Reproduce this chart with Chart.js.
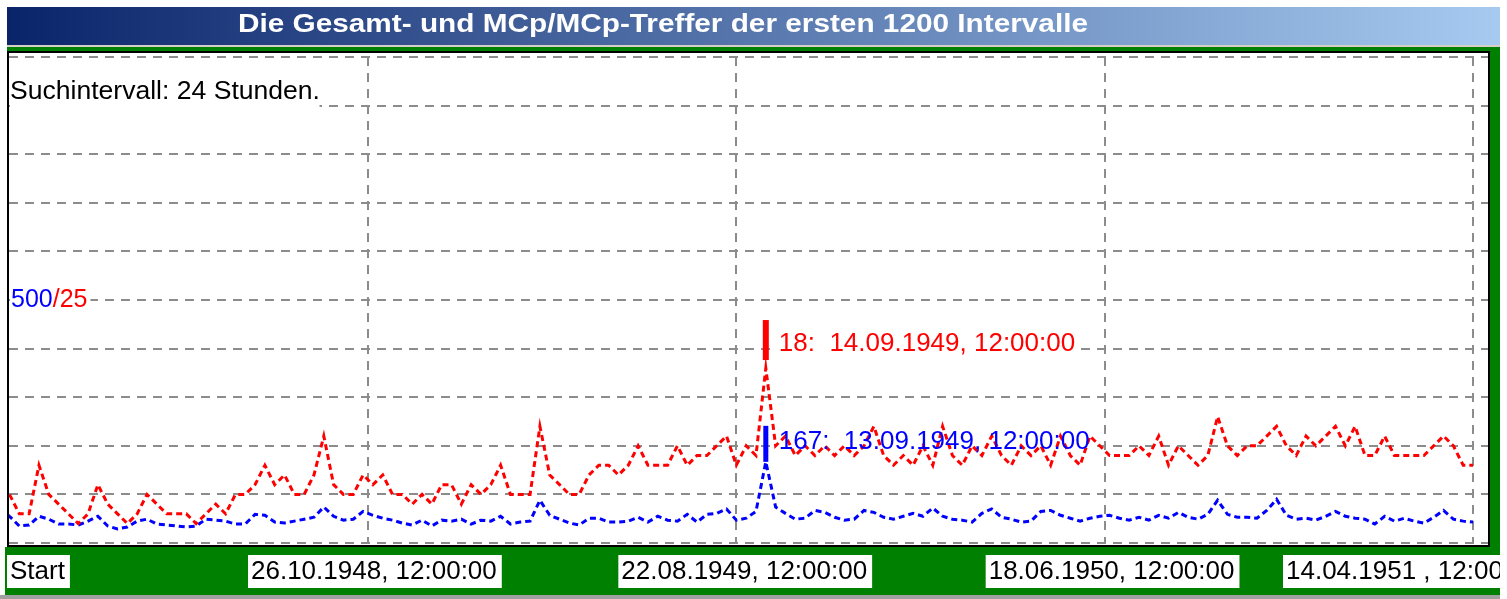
<!DOCTYPE html>
<html lang="de">
<head>
<meta charset="UTF-8">
<title>Gesamt- und MCp/MCp-Treffer</title>
<script src="https://cdn.jsdelivr.net/npm/chart.js@4.4.0/dist/chart.umd.min.js"></script>
<style>
  html, body { margin: 0; padding: 0; background: #fff; overflow: hidden; }
  #wrap { position: relative; width: 1507px; height: 599px; }
</style>
</head>
<body>
<div id="wrap"><canvas id="grafico"></canvas></div>
<script>
// ---- Daten ----
const titel = 'Die Gesamt- und MCp/MCp-Treffer der ersten 1200 Intervalle';
const suchText = 'Suchintervall: 24 Stunden.';

// Intervallnummer je Punkt (alle 8 Intervalle ein Wert)
const intervalle = Array.from({ length: 151 }, (_, i) => i * 8);

// blau: Gesamt-Treffer
const gesamtTreffer = [
  70,55,35,37,55,49,39,39,37,45,55,35,29,33,45,49,39,37,35,33,35,49,47,45,39,39,59,57,43,41,45,49,53,74,55,47,49,65,57,
  51,47,41,37,47,35,47,45,49,39,47,45,55,39,43,45,88,57,49,41,37,51,51,43,43,45,53,43,55,47,45,59,43,59,61,70,47,
  51,65,167,74,61,49,51,67,63,53,47,49,67,63,53,49,55,61,55,72,55,49,47,43,61,70,53,49,43,45,65,67,57,51,45,51,55,
  57,51,47,53,47,57,51,63,53,49,59,88,59,53,53,51,67,90,57,49,51,47,55,65,55,51,49,39,55,45,51,45,41,53,67,49,45,43
];

// rot: MCp/MCp-Treffer
const mcpTreffer = [
  5,5,3,3,8,5,4,3,2,3,6,4,3,2,3,5,4,3,3,3,2,3,4,3,5,5,6,8,6,7,5,5,7,11,6,5,5,7,6,
  7,5,5,4,5,4,6,6,4,6,5,6,8,5,5,5,12,7,6,5,5,7,8,8,7,8,10,8,8,8,10,8,9,9,10,11,8,
  10,9,18,10,11,9,10,9,10,9,10,9,10,12,9,8,9,8,10,8,12,9,8,10,9,11,9,8,10,9,10,8,11,9,8,11,10,
  9,9,9,10,9,11,8,10,9,8,9,13,10,9,10,10,11,12,10,9,11,10,11,12,10,12,9,9,11,9,9,9,9,10,11,10,8,8
];

const xTickWerte = [0, 300, 600, 900, 1200];
const xTickTexte = ['Start', '26.10.1948, 12:00:00', '22.08.1949, 12:00:00', '18.06.1950, 12:00:00', '14.04.1951 , 12:00:00'];
const yMarkeBlau = 500;
const yMarkeRot = 25;
const spitzeDatumRot = '14.09.1949, 12:00:00';
const spitzeDatumBlau = '13.09.1949, 12:00:00';

const ROT = '#ff0000';
const BLAU = '#0000ff';
const GRUEN = '#008000';
const SCHRIFT = "'Liberation Sans', Arial, sans-serif";

const maxIndex = arr => arr.indexOf(Math.max(...arr));

// ---- Rahmen, Titel, Beschriftungen ----
const rahmen = {
  id: 'rahmen',
  beforeDraw(chart) {
    const ctx = chart.ctx;
    ctx.save();
    ctx.fillStyle = '#fff';
    ctx.fillRect(0, 0, chart.width, chart.height);

    // Titelleiste
    const grad = ctx.createLinearGradient(7, 0, 1500, 0);
    grad.addColorStop(0, '#0a246a');
    grad.addColorStop(1, '#a6caf0');
    ctx.fillStyle = grad;
    ctx.fillRect(7, 7, 1493, 38);
    ctx.fillStyle = '#fff';
    ctx.font = 'bold 25px ' + SCHRIFT;
    ctx.textBaseline = 'middle';
    const tw = ctx.measureText(titel).width;
    ctx.translate(238, 25);
    ctx.scale(850 / tw, 1);
    ctx.fillText(titel, 0, 0);
    ctx.setTransform(1, 0, 0, 1, 0, 0);

    ctx.fillStyle = '#d4d0c8';
    ctx.fillRect(7, 45, 1493, 2);
    // gruener Rahmen
    ctx.fillStyle = GRUEN;
    ctx.fillRect(7, 47, 1493, 4);
    ctx.fillRect(1490, 47, 10, 500);
    ctx.fillRect(5, 547, 1495, 48);
    ctx.fillStyle = '#a0a0a0';
    ctx.fillRect(0, 595, 1500, 4);
    // schwarzer Rand
    ctx.fillStyle = '#000';
    ctx.fillRect(7, 51, 1483, 496);
    ctx.fillStyle = '#fff';
    ctx.fillRect(9, 53, 1479, 492);
    ctx.restore();
  },
  beforeDatasetsDraw(chart) {
    const ctx = chart.ctx;
    const y = chart.scales.y, y2 = chart.scales.y2, x = chart.scales.x;
    ctx.save();
    ctx.font = '26px ' + SCHRIFT;
    ctx.fillStyle = '#fff';
    ctx.fillRect(10, 74, ctx.measureText(suchText).width + 6, 36);
    ctx.font = '25px ' + SCHRIFT;
    ctx.fillRect(10, y.getPixelForValue(yMarkeBlau) - 14, ctx.measureText(yMarkeBlau + '/' + yMarkeRot).width + 4, 28);
    ctx.font = '26px ' + SCHRIFT;
    const iR = maxIndex(mcpTreffer), iB = maxIndex(gesamtTreffer);
    const tR = mcpTreffer[iR] + ':  ' + spitzeDatumRot;
    const tB = gesamtTreffer[iB] + ':  ' + spitzeDatumBlau;
    ctx.fillRect(x.getPixelForValue(intervalle[iR]) + 10, y2.getPixelForValue(mcpTreffer[iR]) - 38, ctx.measureText(tR).width + 4, 28);
    ctx.fillRect(x.getPixelForValue(intervalle[iB]) + 10, y.getPixelForValue(gesamtTreffer[iB]) - 36, ctx.measureText(tB).width + 4, 28);
    ctx.restore();
  },
  afterDatasetsDraw(chart) {
    const ctx = chart.ctx;
    const y = chart.scales.y, y2 = chart.scales.y2, x = chart.scales.x;
    ctx.save();
    ctx.textBaseline = 'middle';
    ctx.fillStyle = '#000';
    ctx.font = '26px ' + SCHRIFT;
    const sw = ctx.measureText(suchText).width;
    ctx.translate(10, 92);
    ctx.scale(310 / sw, 1);
    ctx.fillText(suchText, 0, 0);
    ctx.setTransform(1, 0, 0, 1, 0, 0);

    // 500/25 an der Linie
    ctx.font = '25px ' + SCHRIFT;
    const ym = y.getPixelForValue(yMarkeBlau);
    ctx.fillStyle = BLAU;
    ctx.fillText(String(yMarkeBlau), 11, ym);
    const w500 = ctx.measureText(String(yMarkeBlau)).width;
    ctx.fillStyle = ROT;
    ctx.fillText('/' + yMarkeRot, 11 + w500, ym);

    // Spitzenwerte
    ctx.font = '26px ' + SCHRIFT;
    const spitzen = [
      { serie: mcpTreffer, scale: y2, farbe: ROT, datum: spitzeDatumRot, breite: 6, hoch: 44, lift: 8 },
      { serie: gesamtTreffer, scale: y, farbe: BLAU, datum: spitzeDatumBlau, breite: 5, hoch: 40, lift: 0 }
    ];
    spitzen.forEach(s => {
      const i = maxIndex(s.serie);
      const px = x.getPixelForValue(intervalle[i]);
      const py = s.scale.getPixelForValue(s.serie[i]);
      ctx.fillStyle = s.farbe;
      ctx.fillRect(px - s.breite / 2, py - s.hoch - s.lift + 4, s.breite, s.hoch - 4);
      ctx.fillText(s.serie[i] + ':  ' + s.datum, px + 13, py - 20 - s.lift / 2);
    });
    ctx.restore();
  },
  afterDraw(chart) {
    const ctx = chart.ctx;
    const x = chart.scales.x;
    const versatz = [0, -120, -118, -119, -190];
    ctx.save();
    ctx.beginPath();
    ctx.rect(0, 0, 1500, 599);
    ctx.clip();
    ctx.font = '26px ' + SCHRIFT;
    ctx.textBaseline = 'middle';
    xTickTexte.forEach((t, k) => {
      const links = k === 0 ? 7 : x.getPixelForValue(xTickWerte[k]) + versatz[k];
      const w = ctx.measureText(t).width + 8;
      ctx.fillStyle = '#fff';
      ctx.fillRect(links, 555, w, 33);
      ctx.fillStyle = '#000';
      ctx.fillText(t, links + 3, 572);
    });
    ctx.restore();
  }
};

new Chart(document.getElementById('grafico'), {
  type: 'line',
  data: {
    datasets: [
      {
        label: 'MCp/MCp-Treffer',
        data: intervalle.map((v, i) => ({ x: v, y: mcpTreffer[i] })),
        yAxisID: 'y2',
        borderColor: ROT,
        borderWidth: 3,
        borderDash: [6, 4],
        pointRadius: 0,
        tension: 0
      },
      {
        label: 'Gesamt-Treffer',
        data: intervalle.map((v, i) => ({ x: v, y: gesamtTreffer[i] })),
        yAxisID: 'y',
        borderColor: BLAU,
        borderWidth: 3,
        borderDash: [6, 4],
        pointRadius: 0,
        tension: 0
      }
    ]
  },
  options: {
    responsive: true,
    maintainAspectRatio: false,
    animation: false,
    layout: { padding: { left: 9, right: 19, top: 57, bottom: 56 } },
    plugins: { legend: { display: false }, tooltip: { enabled: false } },
    scales: {
      x: {
        type: 'linear',
        min: 7.6,
        max: 1212.2,
        afterBuildTicks: s => { s.ticks = xTickWerte.slice(1).map(v => ({ value: v })); },
        ticks: { display: false },
        grid: { color: '#8c8c8c', lineWidth: 2, drawTicks: false },
        border: { display: false, dash: [9, 7] }
      },
      y: {
        min: 0,
        max: 1000,
        ticks: { display: false, stepSize: 100 },
        grid: { color: '#8c8c8c', lineWidth: 2, drawTicks: false },
        border: { display: false, dash: [9, 7] }
      },
      y2: {
        display: false,
        min: 0,
        max: 50
      }
    }
  },
  plugins: [rahmen]
});
</script>
</body>
</html>
